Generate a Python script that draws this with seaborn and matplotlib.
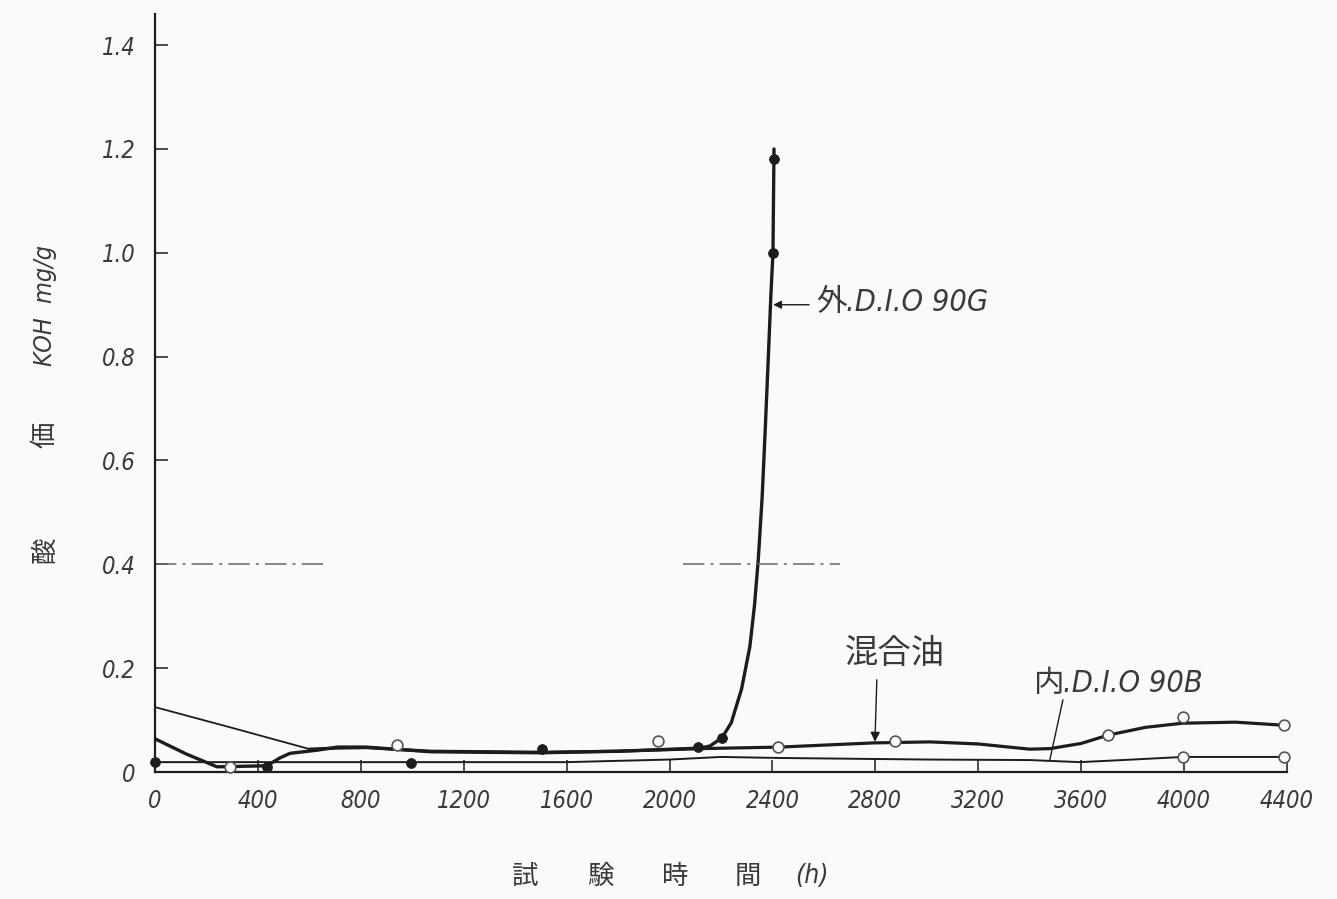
import matplotlib
matplotlib.use("Agg")
import matplotlib.pyplot as plt
import numpy as np
import pandas as pd
import seaborn as sns

# ---------------- data ----------------
# 外.D.I.O 90G  (smoothed curve)
outer_hours = [0, 120, 241, 435, 485, 525, 630, 710, 820, 1070, 1500, 1800,
               2118, 2157, 2204, 2240, 2280, 2312, 2330, 2345, 2360, 2372,
               2384, 2394, 2402, 2406]
outer_vals = [0.064, 0.035, 0.010, 0.012, 0.027, 0.036, 0.042, 0.048, 0.048,
              0.039, 0.037, 0.040, 0.046, 0.050, 0.066, 0.095, 0.160, 0.241,
              0.320, 0.410, 0.530, 0.660, 0.800, 0.920, 1.000, 1.200]

# 混合油 (smoothed curve)
mix_hours = [0, 300, 602, 700, 820, 1070, 1500, 1800, 2118, 2429, 2790, 3012,
             3200, 3400, 3478, 3600, 3704, 3850, 3995, 4200, 4390]
mix_vals = [0.125, 0.085, 0.044, 0.046, 0.047, 0.040, 0.038, 0.040, 0.045,
            0.048, 0.056, 0.058, 0.054, 0.044, 0.045, 0.055, 0.071, 0.086,
            0.094, 0.096, 0.090]

# 内.D.I.O 90B (smoothed curve)
inner_hours = [0, 800, 1600, 2000, 2200, 2429, 3000, 3400, 3595, 3800, 3995, 4390]
inner_vals = [0.019, 0.019, 0.019, 0.024, 0.029, 0.027, 0.024, 0.023, 0.019,
              0.024, 0.029, 0.029]

# measured points
filled_hours = [0, 435, 995, 1505, 2110, 2204, 2402, 2406]
filled_vals = [0.019, 0.010, 0.017, 0.044, 0.048, 0.066, 1.000, 1.180]
open_hours = [291, 940, 1955, 2420, 2875, 3704, 3995, 4390, 3995, 4390]
open_vals = [0.010, 0.052, 0.060, 0.048, 0.060, 0.071, 0.106, 0.090, 0.029, 0.029]

# reference (dash-dot) level
ref_level = 0.4
ref_seg1 = [0, 672]
ref_seg2 = [2052, 2662]

x_ticks = [0, 400, 800, 1200, 1600, 2000, 2400, 2800, 3200, 3600, 4000, 4400]
x_ticklabels = ["0", "400", "800", "1200", "1600", "2000", "2400", "2800",
                "3200", "3600", "4000", "4400"]
y_ticks = [0, 0.2, 0.4, 0.6, 0.8, 1.0, 1.2, 1.4]
y_ticklabels = ["0", "0.2", "0.4", "0.6", "0.8", "1.0", "1.2", "1.4"]

# ---------------- style ----------------
sns.set_style("ticks")
INK = "#1c1c1c"
TXT = "#3a3a3a"
BG = "#fafaf8"
NARROW = ["DejaVu Sans", "Liberation Sans"]
CJK = ["Noto Sans CJK JP", "DejaVu Sans"]

fig = plt.figure(figsize=(13.37, 8.99), dpi=100, facecolor=BG)
W, H = 1337, 899
ax = fig.add_axes([155 / W, 127 / H, (1287 - 155) / W, 758 / H])
ax.set_facecolor(BG)

outer_df = pd.DataFrame({"h": outer_hours, "v": outer_vals})
mix_df = pd.DataFrame({"h": mix_hours, "v": mix_vals})
inner_df = pd.DataFrame({"h": inner_hours, "v": inner_vals})

sns.lineplot(data=inner_df, x="h", y="v", ax=ax, color=INK, lw=1.4, sort=False,
             estimator=None)
mix_thin = mix_df[mix_df["h"] <= 700]
mix_thick = mix_df[mix_df["h"] >= 602]
sns.lineplot(data=mix_thin, x="h", y="v", ax=ax, color=INK, lw=1.3, sort=False,
             estimator=None)
sns.lineplot(data=mix_thick, x="h", y="v", ax=ax, color=INK, lw=2.3, sort=False,
             estimator=None)
sns.lineplot(data=outer_df, x="h", y="v", ax=ax, color=INK, lw=2.4, sort=False,
             estimator=None)

sns.scatterplot(x=filled_hours, y=filled_vals, ax=ax, color=INK, s=50,
                edgecolor=INK, zorder=5, clip_on=False)
sns.scatterplot(x=open_hours, y=open_vals, ax=ax, facecolor=BG, s=60,
                edgecolor="#555555", linewidth=1.2, zorder=5, clip_on=False)

for seg in (ref_seg1, ref_seg2):
    ax.plot(seg, [ref_level, ref_level], color="#666666", lw=1.1,
            linestyle=(0, (14, 4, 2, 4)))

ax.set_xlim(0, 4400)
ax.set_ylim(0, 1.46)
sns.despine(ax=ax)
for s in ("left", "bottom"):
    ax.spines[s].set_color(INK)
    ax.spines[s].set_linewidth(1.6)

ax.set_xticks(x_ticks)
ax.set_xticklabels(x_ticklabels)
ax.set_yticks(y_ticks)
ax.set_yticklabels(y_ticklabels)
ax.tick_params(axis="both", direction="in", length=9, width=1.1, color=INK,
               labelsize=17, labelcolor=TXT)
ax.tick_params(axis="x", pad=12)
ax.tick_params(axis="y", pad=14)
for lab in ax.get_xticklabels() + ax.get_yticklabels():
    lab.set_family(NARROW)
    lab.set_fontstyle("italic")
    lab.set_fontstretch("condensed")
ax.set_xlabel("")
ax.set_ylabel("")

# axis titles (placed as in reference)
def fy(py):
    return 1 - py / H

fig.text(45 / W, fy(550), "酸", family=CJK, fontsize=19, color=TXT,
         rotation=90, ha="center", va="center")
fig.text(45 / W, fy(435), "価", family=CJK, fontsize=19, color=TXT,
         rotation=90, ha="center", va="center")
fig.text(45 / W, fy(305), "KOH  mg/g", family=NARROW, style="italic",
         stretch="condensed", fontsize=18, color=TXT, rotation=90,
         ha="center", va="center")

for ch, px in zip(["試", "験", "時", "間"], [525, 600, 675, 748]):
    fig.text(px / W, fy(876), ch, family=CJK, fontsize=19, color=TXT,
             ha="center", va="center")
fig.text(812 / W, fy(876), "(h)", family=NARROW, style="italic",
         stretch="condensed", fontsize=19, color=TXT, ha="center", va="center")

# annotations
ax.annotate("", xy=(2392, 0.90), xytext=(2553, 0.90),
            arrowprops=dict(arrowstyle="-|>", color=INK, lw=1.0,
                            mutation_scale=12))
ax.text(2630, 0.905, "外", family=CJK, fontsize=22, color=TXT,
        ha="center", va="center")
ax.text(2685, 0.905, ".D.I.O 90G", family=NARROW, style="italic",
        stretch="condensed", fontsize=22, color=TXT, ha="left", va="center")

ax.text(2874, 0.229, "混合油", family=CJK, fontsize=24, color=TXT,
        ha="center", va="center")
ax.annotate("", xy=(2798, 0.053), xytext=(2806, 0.183),
            arrowprops=dict(arrowstyle="-|>", color=INK, lw=1.0,
                            mutation_scale=14))

ax.text(3474, 0.171, "内", family=CJK, fontsize=22, color=TXT,
        ha="center", va="center")
ax.text(3530, 0.171, ".D.I.O 90B", family=NARROW, style="italic",
        stretch="condensed", fontsize=22, color=TXT, ha="left", va="center")
ax.plot([3529, 3478], [0.139, 0.023], color=INK, lw=1.0)

fig.savefig("out.png", dpi=100, facecolor=BG)
